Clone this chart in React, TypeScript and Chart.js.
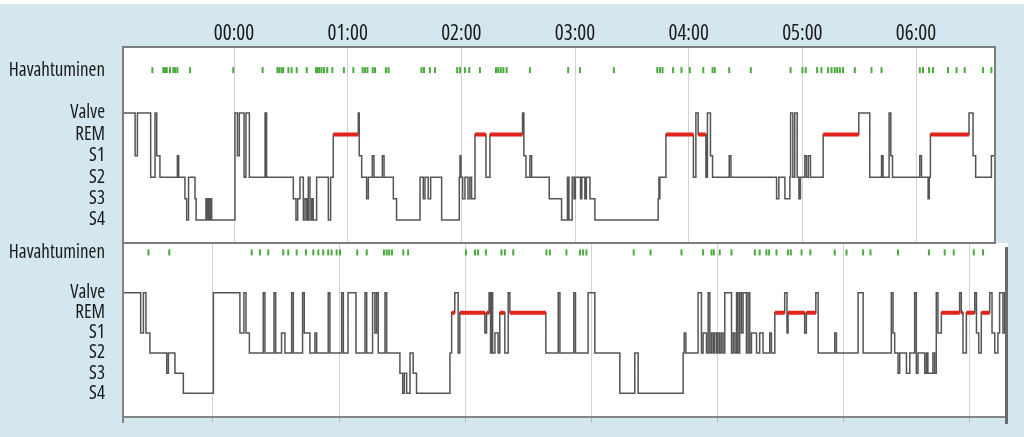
import React, { useEffect, useRef } from "react";
import { Chart, registerables } from "chart.js";

Chart.register(...registerables);

// Stage codes
const W = 5, R = 4, N1 = 3, N2 = 2, N3 = 1, N4 = 0;
const AROUSAL_LEVEL = 7;

const stageTickValues = [0, 1, 2, 3, 4, 5, 7];
const stageTickLabels = ["S4", "S3", "S2", "S1", "REM", "Valve", "Havahtuminen"];

const hourTickValues = [0, 60, 120, 180, 240, 300, 360];
const hourTickLabels = ["00:00", "01:00", "02:00", "03:00", "04:00", "05:00", "06:00"];

const topRange = [-58.6, 401.7];
const bottomRange = [-42.8, 378.1];

// [minute, stage]
const topHypnogram: [number, number][] = [
  [-58.6, W], [-52.2, N1], [-51.0, W], [-44.0, N2], [-41.7, W], [-40.8, N1], [-39.1, N2],
  [-29.9, N1], [-29.2, N2], [-25.9, N3], [-25.0, N4], [-24.0, N2], [-20.6, N3], [-20.0, N4],
  [-14.8, N3], [-14.1, N4], [-13.5, N3], [-13.0, N4], [-12.5, N3], [-11.8, N4],
  [0.5, W], [1.8, N1], [2.8, W], [5.3, N2], [6.3, W], [8.1, N2], [16.4, W], [17.2, N2],
  [31.3, N3], [32.7, N4], [33.6, N3], [34.8, N2], [36.6, N4], [37.5, N3], [38.4, N4], [39.2, N2],
  [40.1, N4], [41.0, N3], [41.8, N4], [43.6, N2], [49.8, N4], [51.0, N2], [52.4, R],
  [65.6, W], [66.1, N1], [67.4, N2], [70.0, N3], [70.9, N2], [73.0, N1], [73.9, N2],
  [78.3, N1], [79.2, N2], [84.1, N3], [85.8, N4], [98.2, N2], [99.9, N3], [100.8, N2],
  [102.5, N3], [103.8, N2], [109.6, N4], [118.9, N2], [119.3, N1], [119.8, N2], [120.7, N3],
  [121.9, N2], [123.5, N3], [124.5, N2], [125.4, N3], [127.2, R], [133.0, N2], [135.1, R],
  [152.3, W], [153.0, N1], [154.1, N2], [156.2, N1], [157.1, N2], [166.4, N3], [172.9, N4],
  [176.0, N2], [176.8, N4], [178.5, N2], [179.5, N3], [180.2, N2], [182.9, N3], [183.6, N2],
  [185.2, N3], [186.0, N2], [187.9, N3], [190.5, N4], [223.9, N3], [224.3, N2], [224.6, N3],
  [224.8, N2], [228.0, R], [242.5, N2], [243.8, W], [245.0, R], [249.1, N2], [249.9, W],
  [251.5, N1], [252.6, N2], [261.4, N1], [262.3, N2], [286.4, N3], [287.6, N2], [290.8, N3],
  [293.4, N2], [293.8, W], [295.0, N2], [296.0, W], [297.3, N2], [298.2, N3], [299.0, N2],
  [301.3, N1], [302.2, N2], [303.2, N1], [304.3, N2], [311.0, R], [329.8, W], [335.6, N2],
  [341.8, N1], [342.6, N2], [345.8, W], [346.7, N1], [347.6, N2], [362.0, N1], [362.9, N2],
  [366.4, N3], [367.0, N2], [367.6, R], [388.0, W], [390.1, N1], [391.5, N2], [399.8, N1],
  [401.7, N1],
];

const topArousals = [
  -43.1, -37.3, -36.4, -35.5, -33.8, -32.0, -31.1, -29.9, -23.2, -0.4, 15.1, 22.9, 23.9, 25.1,
  26.0, 28.7, 30.4, 33.1, 38.4, 43.3, 44.1, 45.0, 46.2, 47.5, 49.2, 51.9, 58.0, 63.0, 67.9,
  69.1, 70.4, 73.2, 74.4, 80.2, 81.6, 99.0, 100.3, 103.4, 106.1, 117.8, 119.3, 121.9, 124.2,
  129.8, 138.3, 139.5, 140.8, 142.2, 143.9, 156.2, 176.4, 182.6, 200.5, 223.4, 224.8, 226.2,
  231.8, 236.2, 240.6, 247.7, 252.6, 253.8, 261.4, 272.8, 293.8, 300.1, 301.8, 307.8, 310.1,
  313.6, 315.4, 317.1, 318.4, 319.8, 321.5, 327.7, 336.5, 341.8, 362.0, 363.7, 366.9, 369.0,
  376.9, 381.4, 385.7, 395.4, 399.8,
];

const bottomHypnogram: [number, number][] = [
  [-42.8, W], [-34.4, N1], [-33.1, W], [-31.9, N1], [-30.0, N2], [-22.0, N3], [-21.2, N2],
  [-18.1, N3], [-14.1, N4], [0.2, W], [12.8, N1], [14.7, W], [15.7, N1], [17.3, N2],
  [23.9, W], [24.7, N2], [29.0, W], [29.8, N2], [32.6, N1], [34.2, N2], [37.4, W], [38.2, N2],
  [42.6, W], [43.4, N1], [46.1, N2], [48.5, N1], [49.3, N2], [54.8, W], [55.6, N2], [61.2, W],
  [62.0, N2], [64.2, W], [68.0, N2], [72.3, W], [73.1, N2], [75.9, W], [77.0, N1], [77.8, W],
  [78.6, N2], [81.8, W], [82.6, N2], [88.9, N3], [90.2, N4], [91.0, N3], [92.1, N4], [93.7, N2],
  [95.2, N3], [96.8, N4], [112.7, N2], [113.5, R], [115.0, W], [116.6, N2], [117.4, R],
  [129.3, N1], [130.1, R], [131.3, W], [132.0, N2], [132.5, W], [133.0, N2], [134.1, N1],
  [135.6, N2], [136.4, R], [138.8, N2], [140.4, W], [141.2, R], [158.3, N2], [164.2, W],
  [165.0, N2], [171.6, W], [172.4, N2], [178.4, W], [181.6, N2], [193.5, N4], [200.6, N2],
  [202.2, N4], [223.6, N2], [224.1, N1], [224.9, N2], [230.7, W], [232.3, N2], [233.1, N1],
  [234.7, N2], [235.5, W], [236.3, N2], [237.1, N1], [237.9, N2], [238.6, N1], [239.5, N2],
  [240.2, N1], [241.0, N2], [241.8, N1], [242.6, N2], [243.4, W], [246.6, N2], [247.4, N1],
  [248.2, N2], [249.0, W], [249.7, N2], [250.5, W], [251.3, N1], [252.1, W], [253.7, N2],
  [254.5, W], [255.3, N2], [256.1, N1], [258.5, N2], [260.0, N1], [261.6, N2], [264.8, N1],
  [265.6, N2], [267.2, R], [271.9, W], [273.0, N1], [273.5, R], [281.4, N1], [282.2, R],
  [286.7, W], [287.8, N2], [295.7, N1], [296.5, N2], [306.8, W], [309.2, N2], [322.6, W],
  [323.4, N1], [324.2, N2], [325.8, N3], [326.6, N2], [329.8, N3], [331.4, N2], [333.7, W],
  [334.5, N3], [335.3, N2], [338.5, N3], [339.3, N2], [340.0, N3], [342.4, N2], [343.2, N3],
  [344.0, W], [344.8, N1], [346.4, R], [355.1, W], [355.9, R], [356.7, N2], [358.3, R],
  [362.3, W], [363.1, N1], [364.2, N2], [365.4, R], [369.4, W], [370.5, N1], [371.8, N2],
  [373.3, N1], [374.1, W], [375.7, N1], [376.5, W], [378.1, W],
];

const bottomArousals = [
  -30.7, -20.8, 18.4, 22.3, 26.3, 33.4, 35.8, 39.8, 44.2, 47.7, 50.1, 52.4, 54.8, 56.4, 58.8,
  60.4, 68.6, 73.1, 81.3, 82.6, 83.8, 85.1, 90.5, 92.8, 120.3, 124.6, 126.1, 129.8, 137.2,
  138.8, 142.8, 158.6, 160.2, 168.1, 174.5, 176.0, 177.6, 200.1, 208.1, 222.8, 233.1, 237.1,
  238.2, 241.0, 246.6, 257.7, 260.0, 263.2, 264.5, 268.0, 273.5, 274.8, 279.9, 284.1, 295.7,
  301.3, 309.2, 312.7, 325.8, 340.5, 348.0, 352.3, 361.8, 366.2,
];

const FONT = "'Open Sans', 'Roboto Condensed', sans-serif";

function remSegments(h: [number, number][]) {
  const out: { x: number; y: number | null }[] = [];
  for (let i = 0; i < h.length - 1; i++) {
    if (h[i][1] === R) {
      out.push({ x: h[i][0], y: R }, { x: h[i + 1][0], y: R }, { x: h[i + 1][0], y: null });
    }
  }
  return out;
}

type PanelOpts = {
  hyp: [number, number][];
  arousals: number[];
  xRange: number[];
  yRange: number[];
  top: boolean;
};

function zeroPadding(s: any) {
  s.paddingTop = 0;
  s.paddingBottom = 0;
  s.paddingLeft = 0;
  s.paddingRight = 0;
}

function makeChart(canvas: HTMLCanvasElement, p: PanelOpts) {
  const boxPlugin = {
    id: "panelBox",
    beforeDraw(chart: any) {
      const { ctx, chartArea: a } = chart;
      ctx.save();
      ctx.fillStyle = "#ffffff";
      ctx.fillRect(a.left, a.top, a.right - a.left, a.bottom - a.top);
      ctx.restore();
    },
    afterDraw(chart: any) {
      const { ctx, chartArea: a } = chart;
      ctx.save();
      if (p.top) {
        ctx.strokeStyle = "#7d7d7d";
        ctx.lineWidth = 2;
        ctx.strokeRect(a.left, a.top, a.right - a.left, a.bottom - a.top);
      } else {
        ctx.strokeStyle = "#858585";
        ctx.lineWidth = 2;
        ctx.beginPath();
        ctx.moveTo(a.left, a.top);
        ctx.lineTo(a.left, a.bottom + 6);
        ctx.moveTo(a.left, a.bottom);
        ctx.lineTo(a.right, a.bottom);
        ctx.stroke();
        ctx.strokeStyle = "#6a6a6a";
        ctx.lineWidth = 3;
        ctx.beginPath();
        ctx.moveTo(a.right - 1.5, a.top + 4);
        ctx.lineTo(a.right - 1.5, a.bottom + 7);
        ctx.stroke();
      }
      ctx.restore();
    },
  };

  return new Chart(canvas, {
    type: "line",
    data: {
      datasets: [
        {
          data: p.hyp.map(([x, y]) => ({ x, y })),
          stepped: true,
          borderColor: "#555555",
          borderWidth: 1.5,
          pointRadius: 0,
          fill: false,
          order: 3,
        },
        {
          data: remSegments(p.hyp),
          borderColor: "#e2231a",
          borderWidth: 4,
          borderCapStyle: "butt",
          pointRadius: 0,
          spanGaps: false,
          fill: false,
          order: 2,
        },
        {
          data: p.arousals.map((x) => ({ x, y: AROUSAL_LEVEL })),
          showLine: false,
          pointStyle: "line",
          rotation: 90,
          pointRadius: 3,
          borderColor: "#4aab3c",
          borderWidth: 2,
          order: 1,
        },
      ] as any,
    },
    options: {
      responsive: false,
      animation: false,
      events: [],
      layout: {
        autoPadding: false,
        padding: p.top
          ? { left: 0, right: 29, top: 0, bottom: 2 }
          : { left: 0, right: 16, top: 0, bottom: 0 },
      },
      plugins: { legend: { display: false }, tooltip: { enabled: false } },
      scales: {
        x: {
          type: "linear",
          position: p.top ? "top" : "bottom",
          min: p.xRange[0],
          max: p.xRange[1],
          afterBuildTicks: (s: any) => {
            s.ticks = hourTickValues.map((value) => ({ value }));
          },
          afterFit: (s: any) => {
            s.height = p.top ? 47 : 20;
            zeroPadding(s);
          },
          ticks: {
            display: p.top,
            autoSkip: false,
            maxRotation: 0,
            padding: 0,
            color: "#1a1a1a",
            font: { family: FONT, size: 21, weight: "condensed" },
            callback: (_v: any, i: number) => hourTickLabels[i],
          },
          grid: {
            color: "#d2d2d2",
            lineWidth: 1,
            drawTicks: !p.top,
            tickLength: 6,
            tickColor: "#b8b8b8",
          },
          border: { display: false },
        },
        y: {
          type: "linear",
          min: p.yRange[0],
          max: p.yRange[1],
          afterBuildTicks: (s: any) => {
            s.ticks = stageTickValues.map((value) => ({ value }));
          },
          afterFit: (s: any) => {
            s.width = 123;
            zeroPadding(s);
          },
          ticks: {
            autoSkip: false,
            padding: 10,
            color: "#1a1a1a",
            font: { family: FONT, size: 19, weight: "condensed" },
            callback: (_v: any, i: number) => stageTickLabels[i],
          },
          grid: { display: false },
          border: { display: false },
        },
      },
    } as any,
    plugins: [boxPlugin],
  });
}

export default function App() {
  const topRef = useRef<HTMLCanvasElement>(null);
  const bottomRef = useRef<HTMLCanvasElement>(null);

  useEffect(() => {
    const c1 = makeChart(topRef.current!, {
      hyp: topHypnogram,
      arousals: topArousals,
      xRange: topRange,
      yRange: [-1.07, 8.08],
      top: true,
    });
    const c2 = makeChart(bottomRef.current!, {
      hyp: bottomHypnogram,
      arousals: bottomArousals,
      xRange: bottomRange,
      yRange: [-1.18, 7.47],
      top: false,
    });
    return () => {
      c1.destroy();
      c2.destroy();
    };
  }, []);

  return (
    <div
      style={{
        position: "fixed",
        left: 0,
        top: 0,
        width: 1024,
        height: 437,
        background: "#d4e6ee",
        overflow: "hidden",
      }}
    >
      <div style={{ position: "absolute", left: 0, top: 0, width: 1024, height: 4, background: "#ffffff" }} />
      <canvas
        ref={bottomRef}
        width={1024}
        height={194}
        style={{ position: "absolute", left: 0, top: 243 }}
      />
      <canvas
        ref={topRef}
        width={1024}
        height={245}
        style={{ position: "absolute", left: 0, top: 0 }}
      />
    </div>
  );
}
